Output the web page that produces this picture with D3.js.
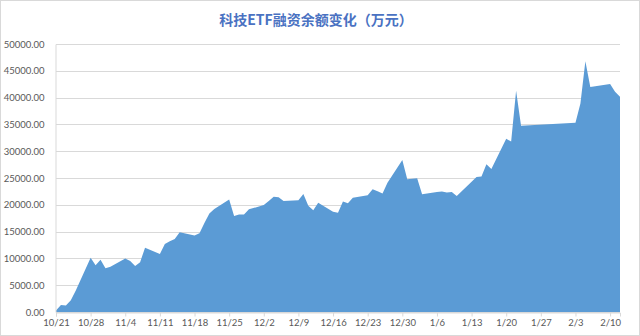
<!DOCTYPE html>
<html>
<head>
<meta charset="utf-8">
<script src="https://cdn.jsdelivr.net/npm/d3@7"></script>
<style>
  html, body { margin: 0; padding: 0; background: #fff; }
  svg { display: block; }
</style>
</head>
<body>
<div id="chart"></div>
<script>
// trading days (2019-10-21 .. 2020-02-12)
const dates = [
  "2019-10-21","2019-10-22","2019-10-23","2019-10-24","2019-10-25",
  "2019-10-28","2019-10-29","2019-10-30","2019-10-31","2019-11-01",
  "2019-11-04","2019-11-05","2019-11-06","2019-11-07","2019-11-08",
  "2019-11-11","2019-11-12","2019-11-13","2019-11-14","2019-11-15",
  "2019-11-18","2019-11-19","2019-11-20","2019-11-21","2019-11-22",
  "2019-11-25","2019-11-26","2019-11-27","2019-11-28","2019-11-29",
  "2019-12-02","2019-12-03","2019-12-04","2019-12-05","2019-12-06",
  "2019-12-09","2019-12-10","2019-12-11","2019-12-12","2019-12-13",
  "2019-12-16","2019-12-17","2019-12-18","2019-12-19","2019-12-20",
  "2019-12-23","2019-12-24","2019-12-25","2019-12-26","2019-12-27",
  "2019-12-30","2019-12-31","2020-01-02","2020-01-03",
  "2020-01-06","2020-01-07","2020-01-08","2020-01-09","2020-01-10",
  "2020-01-13","2020-01-14","2020-01-15","2020-01-16","2020-01-17",
  "2020-01-20","2020-01-21","2020-01-22","2020-01-23",
  "2020-02-03","2020-02-04","2020-02-05","2020-02-06","2020-02-07",
  "2020-02-10","2020-02-11","2020-02-12"
];
const balance = [
  300, 1300, 1200, 2200, 4000,
  10100, 8700, 9750, 8150, 8450,
  10000, 9500, 8600, 9300, 12000,
  10800, 12700, 13200, 13600, 14900,
  14250, 14700, 16600, 18400, 19200,
  21000, 17900, 18200, 18200, 19150,
  19950, 20700, 21500, 21400, 20700,
  20850, 22000, 19800, 19000, 20400,
  18700, 18500, 20600, 20300, 21300,
  21800, 22900, 22550, 22100, 24100,
  28350, 24750, 24950, 21950,
  22400, 22500, 22300, 22400, 21650,
  24300, 25200, 25300, 27550, 26700,
  32300, 31800, 41300, 34750,
  35300, 38900, 46800, 42000, 42100,
  42550, 41100, 40150
];
const tickDates = [
  "2019-10-21","2019-10-28","2019-11-04","2019-11-11","2019-11-18",
  "2019-11-25","2019-12-02","2019-12-09","2019-12-16","2019-12-23",
  "2019-12-30","2020-01-06","2020-01-13","2020-01-20","2020-01-27",
  "2020-02-03","2020-02-10"
];
const yTicks = [0, 5000, 10000, 15000, 20000, 25000, 30000, 35000, 40000, 45000, 50000];
const title = "科技ETF融资余额变化（万元）";

const width = 640, height = 336;
const margin = { left: 56, right: 620, top: 44, bottom: 312 };
const parse = d3.timeParse("%Y-%m-%d");
const data = dates.map((d, i) => ({ date: parse(d), value: balance[i] }));

const svg = d3.select("#chart").append("svg")
  .attr("width", width)
  .attr("height", height);

svg.append("rect")
  .attr("x", 0.5).attr("y", 0.5)
  .attr("width", width - 1).attr("height", height - 1)
  .attr("fill", "#fff")
  .attr("stroke", "#d9d9d9");

svg.append("text")
  .attr("x", 316)
  .attr("y", 25)
  .attr("text-anchor", "middle")
  .style("font", "bold 14px 'Noto Sans CJK SC', sans-serif")
  .style("fill", "#4a72c2")
  .text(title);

const x = d3.scaleTime()
  .domain([parse("2019-10-21"), parse("2020-02-12")])
  .range([margin.left, margin.right]);

const y = d3.scaleLinear()
  .domain([0, 50000])
  .range([margin.bottom, margin.top]);

// gridlines
svg.append("g")
  .selectAll("line")
  .data(yTicks)
  .enter()
  .append("line")
  .attr("x1", margin.left).attr("x2", margin.right)
  .attr("y1", d => Math.round(y(d)) + 0.5)
  .attr("y2", d => Math.round(y(d)) + 0.5)
  .attr("stroke", "#d9d9d9");

// area
const area = d3.area()
  .x(d => x(d.date))
  .y0(y(0))
  .y1(d => y(d.value));

svg.append("path")
  .datum(data)
  .attr("d", area)
  .attr("fill", "#5b9bd5");

// y axis
const yAxis = svg.append("g")
  .attr("transform", "translate(" + (margin.left - 0.5) + ",0)")
  .call(d3.axisLeft(y).tickValues(yTicks).tickFormat(d3.format(".2f")).tickSize(0).tickPadding(11));
yAxis.select(".domain").attr("stroke", "#d9d9d9");
yAxis.selectAll("text")
  .style("font", "9.5px Lato, sans-serif")
  .style("fill", "#595959");

// x axis
const xAxis = svg.append("g")
  .attr("transform", "translate(0," + (margin.bottom + 0.5) + ")")
  .call(d3.axisBottom(x).tickValues(tickDates.map(parse)).tickFormat(d3.timeFormat("%-m/%-d")).tickSizeOuter(0).tickSize(4).tickPadding(3));
xAxis.select(".domain").attr("stroke", "#d9d9d9");
xAxis.selectAll(".tick line").attr("stroke", "#d9d9d9");
xAxis.selectAll("text")
  .style("font", "9.5px Lato, sans-serif")
  .style("fill", "#595959");
</script>
</body>
</html>
